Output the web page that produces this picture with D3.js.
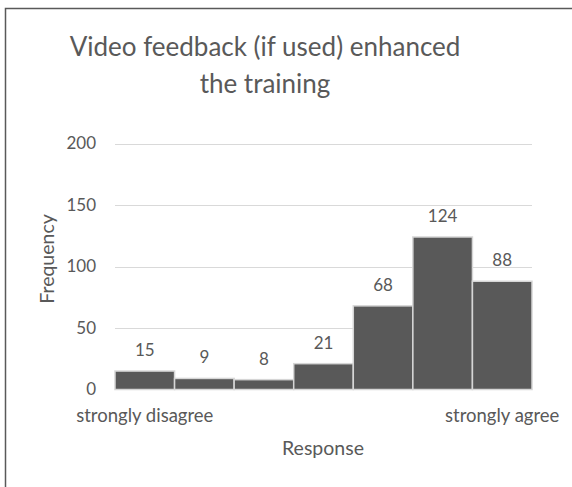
<!DOCTYPE html>
<html>
<head>
<meta charset="utf-8">
<script src="https://cdn.jsdelivr.net/npm/d3@7"></script>
<style>
  html, body { margin: 0; padding: 0; background: #fff; }
  svg { display: block; }
  text { font-family: Lato, "Open Sans", sans-serif; fill: #595959; }
</style>
</head>
<body>
<svg id="chart" width="572" height="487"></svg>
<script>
(function() {
  // data
  const responses = [1, 2, 3, 4, 5, 6, 7];
  const frequency = [15, 9, 8, 21, 68, 124, 88];
  const responseLabels = ['strongly disagree', '', '', '', '', '', 'strongly agree'];
  const yTicks = [0, 50, 100, 150, 200];
  const titleLines = ['Video feedback (if used) enhanced', 'the training'];

  const svg = d3.select('#chart');

  // frame (only top and left edges show in the crop)
  svg.append('rect')
    .attr('x', 5.5).attr('y', 8.5)
    .attr('width', 600).attr('height', 600)
    .attr('fill', 'none')
    .attr('stroke', '#595959')
    .attr('stroke-width', 1.5);

  const plot = { left: 115, right: 532, top: 143.5, bottom: 389.5 };

  const x = d3.scaleBand()
    .domain(responses)
    .range([plot.left, plot.right])
    .padding(0);

  const y = d3.scaleLinear()
    .domain([0, 200])
    .range([plot.bottom, plot.top]);

  // gridlines
  svg.append('g')
    .selectAll('line')
    .data(yTicks.filter(d => d > 0))
    .join('line')
    .attr('x1', plot.left).attr('x2', plot.right)
    .attr('y1', d => Math.round(y(d)) + 0.5)
    .attr('y2', d => Math.round(y(d)) + 0.5)
    .attr('stroke', '#d9d9d9')
    .attr('stroke-width', 1);

  // y axis labels
  const yAxis = d3.axisLeft(y).tickValues(yTicks).tickSize(0).tickPadding(0);
  const gy = svg.append('g')
    .attr('transform', `translate(${96},0)`)
    .call(yAxis);
  gy.select('.domain').remove();
  gy.selectAll('text')
    .style('font-size', '17px')
    .attr('fill', '#595959');

  // bars
  svg.append('g')
    .selectAll('rect')
    .data(frequency)
    .join('rect')
    .attr('x', (d, i) => x(responses[i]))
    .attr('y', d => y(d))
    .attr('width', x.bandwidth())
    .attr('height', d => y(0) - y(d))
    .attr('fill', '#595959')
    .attr('stroke', '#d6d6d6')
    .attr('stroke-width', 1.5);

  // data labels
  svg.append('g')
    .selectAll('text')
    .data(frequency)
    .join('text')
    .attr('x', (d, i) => x(responses[i]) + x.bandwidth() / 2)
    .attr('y', d => y(d) - 15)
    .attr('text-anchor', 'middle')
    .style('font-size', '17px')
    .text(d => d);

  // x axis category labels
  const xAxis = d3.axisBottom(x)
    .tickFormat((d, i) => responseLabels[i])
    .tickSize(0).tickPadding(0);
  const gx = svg.append('g')
    .attr('transform', `translate(0,${plot.bottom})`)
    .call(xAxis);
  gx.select('.domain').remove();
  gx.selectAll('text')
    .attr('dy', null)
    .attr('y', 32)
    .style('font-size', '18.5px')
    .attr('fill', '#595959');

  // axis titles
  svg.append('text')
    .attr('x', 323).attr('y', 455)
    .attr('text-anchor', 'middle')
    .style('font-size', '19.5px')
    .text('Response');

  svg.append('text')
    .attr('transform', 'translate(54,259) rotate(-90)')
    .attr('text-anchor', 'middle')
    .style('font-size', '19.5px')
    .text('Frequency');

  // title
  svg.append('g')
    .selectAll('text')
    .data(titleLines)
    .join('text')
    .attr('x', 265)
    .attr('y', (d, i) => 56 + i * 37)
    .attr('text-anchor', 'middle')
    .style('font-size', '26px')
    .text(d => d);
})();
</script>
</body>
</html>
